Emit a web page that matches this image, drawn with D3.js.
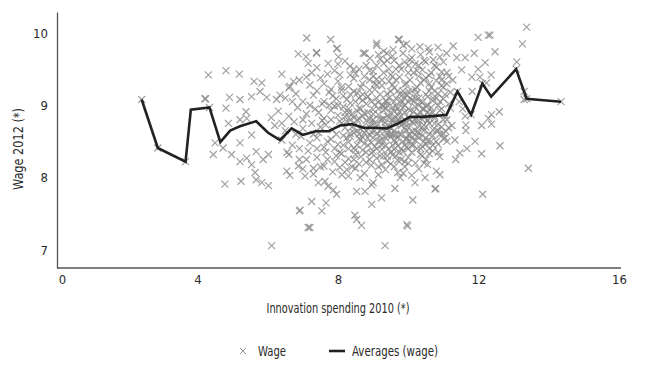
<!DOCTYPE html>
<html lang="en">
<head>
  <meta charset="utf-8">
  <title>Wage vs innovation spending</title>
  <script type="text/javascript" src="https://cdn.jsdelivr.net/npm/d3@7/dist/d3.min.js"></script>
  <style>
    body { margin: 0; background: #fff; }
    text { font-family: "DejaVu Sans Condensed", "DejaVu Sans", sans-serif; font-stretch: condensed; fill: #2a2a2a; }
  </style>
</head>
<body>
  <div id="chart"></div>
  <script type="text/javascript">

    let xTicks = [0, 4, 8, 12, 16];
    let yTicks = [7, 8, 9, 10];

    // averages line (x, wage)
    let avgX = [2.41, 2.87, 3.66, 3.81, 4.34, 4.65, 4.93, 5.21, 5.67, 6.01, 6.35, 6.68, 7.00, 7.36, 7.72, 8.06,
                8.39, 8.72, 9.05, 9.39, 9.72, 10.05, 10.38, 10.71, 11.09, 11.40, 11.79, 12.11, 12.36, 13.07, 13.37, 14.35];
    let avgY = [9.08, 8.41, 8.22, 8.94, 8.97, 8.49, 8.65, 8.71, 8.78, 8.62, 8.52, 8.68, 8.59, 8.64, 8.64, 8.72,
                8.74, 8.69, 8.69, 8.68, 8.75, 8.84, 8.84, 8.85, 8.87, 9.19, 8.87, 9.30, 9.12, 9.50, 9.09, 9.05];

    // scattered points away from the main cloud
    let outliers = [
      [2.41,9.08],[2.87,8.41],[3.66,8.22],[4.34,8.97],
      [4.31,9.42],[4.23,9.09],[4.45,8.32],[4.50,8.48],[4.81,9.48],[5.19,9.43],[4.21,9.09],[4.91,9.11],
      [5.21,9.08],[4.81,8.96],[5.38,8.91],[5.54,9.12],[5.78,9.19],[5.97,9.11],[6.25,9.08],[6.35,9.14],
      [6.63,9.26],[6.73,9.33],[4.88,8.75],[5.21,8.80],[5.40,8.82],[5.21,8.48],[5.54,8.59],[5.61,9.33],
      [5.83,9.31],[6.40,9.43],[6.87,9.71],[7.09,9.67],[7.15,9.58],[7.39,9.72],[7.11,9.93],
      [4.73,8.41],[4.97,8.32],[5.21,8.22],[5.40,8.27],[5.67,8.36],[4.78,7.91],[5.24,7.95],[5.64,8.07],
      [5.67,7.97],[5.83,7.93],[6.02,7.89],[5.54,8.18],[5.87,8.25],[6.02,8.32],[6.54,8.09],[6.63,8.03],
      [6.87,8.16],[7.06,8.02],[7.25,7.67],[6.90,7.54],[6.92,7.55],[7.15,7.31],[6.11,7.06],
      [7.30,8.13],[7.44,7.93],[7.63,7.95],[7.72,7.88],[7.87,7.83],[7.96,7.77],[7.66,7.65],[7.54,7.54],
      [7.20,7.31],[8.48,7.48],[8.53,7.42],[8.67,7.34],[8.53,7.81],[8.77,7.81],[8.96,7.63],[9.00,7.93],
      [9.24,7.72],[9.62,7.85],[9.34,7.06],[9.96,7.35],[9.98,7.33],[10.13,7.69],[10.19,7.93],[10.48,8.00],
      [10.76,7.84],[10.78,7.85],[10.90,8.04],[8.11,8.04],[8.25,8.11],[8.63,8.00],[8.96,7.90],[9.77,8.00],[9.86,8.06],
      [7.79,9.91],[7.39,9.73],[7.98,9.79],[8.01,9.67],[8.72,9.72],[9.10,9.83],[9.72,9.91],[9.86,9.83],
      [10.33,9.81],[10.57,9.79],[11.09,9.72],[7.72,9.58],[8.34,9.54],[8.91,9.65],[9.39,9.72],[9.57,9.77],
      [10.05,9.63],[10.71,9.63],[10.90,9.67],[7.96,9.78],[8.77,9.72],[9.75,9.91],[9.10,9.86],
      [13.37,10.08],[13.25,9.85],[12.28,9.97],[12.33,9.97],[11.99,9.94],[11.28,9.82],[11.88,9.72],
      [12.47,9.74],[12.19,9.59],[11.99,9.50],[12.36,9.42],[13.09,9.60],[11.38,9.66],[11.62,9.66],
      [11.52,9.49],[11.81,9.39],[12.04,9.39],[12.23,9.31],[11.27,9.35],[11.82,9.19],[13.30,9.19],
      [13.30,9.08],[12.59,8.91],[12.37,8.87],[12.28,8.82],[11.62,8.85],[12.09,8.72],[12.37,8.74],
      [11.64,8.73],[11.64,8.65],[11.33,8.52],[11.90,8.50],[12.61,8.44],[11.67,8.40],[11.47,8.34],
      [12.09,8.33],[13.42,8.13],[12.12,7.77],[11.24,8.72],[11.07,8.64],[14.35,9.05],[11.40,9.19],
      [11.79,8.87],[12.11,9.30],[13.07,9.50],[13.37,9.09],[11.45,9.05],[11.55,8.95],[11.35,8.25]
    ];

    // main cloud
    let cloud = [
      [7.4,9.52],[7.9,9.48],[8.2,9.61],[8.5,9.44],[8.8,9.55],[9.0,9.47],[9.3,9.58],[9.5,9.42],[9.6,9.62],
      [9.8,9.5],[10.0,9.45],[10.2,9.57],[10.4,9.49],[10.6,9.41],[10.8,9.53],[10.95,9.46],[9.2,9.64],[8.6,9.5],
      [7.7,9.43],[10.1,9.66],[9.9,9.6],[10.5,9.6],[11.1,9.45],[8.0,9.57],
      [6.9,9.35],[7.2,9.28],[7.5,9.38],[7.8,9.22],[8.0,9.33],[8.3,9.26],[8.45,9.37],[8.7,9.3],[8.9,9.21],
      [9.1,9.36],[9.25,9.27],[9.45,9.33],[9.6,9.24],[9.75,9.39],[9.9,9.29],[10.05,9.35],[10.2,9.22],
      [10.35,9.31],[10.5,9.38],[10.65,9.25],[10.8,9.34],[10.95,9.27],[11.1,9.3],[9.0,9.4],[9.55,9.4],
      [10.3,9.4],[8.1,9.21],[6.6,9.24],[7.1,9.39],[9.85,9.2],[10.6,9.2],
      [6.5,9.1],[6.8,9.16],[7.0,9.05],[7.3,9.14],[7.55,9.02],[7.75,9.18],[7.95,9.09],[8.15,9.13],[8.35,9.03],
      [8.55,9.17],[8.7,9.07],[8.85,9.12],[9.05,9.01],[9.2,9.15],[9.35,9.06],[9.5,9.19],[9.65,9.1],[9.8,9.03],
      [9.95,9.14],[10.1,9.08],[10.25,9.17],[10.4,9.04],[10.55,9.12],[10.7,9.06],[10.85,9.16],[11.0,9.09],
      [11.15,9.02],[8.45,9.19],[9.1,9.1],[9.75,9.15],[10.3,9.0],[8.0,9.0],[9.4,9.0],[10.0,9.19],[7.4,9.2],[11.2,9.18],
      [6.3,8.92],[6.6,8.85],[6.85,8.97],[7.1,8.88],[7.35,8.95],[7.6,8.82],[7.8,8.93],[8.0,8.86],[8.15,8.98],
      [8.3,8.9],[8.45,8.83],[8.6,8.96],[8.75,8.89],[8.9,8.81],[9.0,8.94],[9.15,8.87],[9.3,8.99],[9.45,8.84],
      [9.6,8.92],[9.7,8.86],[9.85,8.97],[10.0,8.83],[10.15,8.91],[10.3,8.85],[10.45,8.95],[10.6,8.88],
      [10.75,8.82],[10.9,8.93],[11.05,8.86],[11.2,8.96],[8.55,8.8],[9.25,8.8],[9.9,8.9],[10.5,8.99],[7.9,8.99],
      [8.2,8.84],[9.55,8.97],[10.2,8.98],[6.1,8.83],
      [6.2,8.72],[6.5,8.65],[6.75,8.77],[7.0,8.68],[7.25,8.75],[7.45,8.62],[7.65,8.73],[7.85,8.66],[8.05,8.78],
      [8.2,8.69],[8.35,8.61],[8.5,8.74],[8.65,8.67],[8.8,8.79],[8.95,8.63],[9.1,8.71],[9.2,8.64],[9.35,8.76],
      [9.5,8.68],[9.65,8.6],[9.8,8.72],[9.95,8.65],[10.1,8.77],[10.25,8.63],[10.4,8.7],[10.55,8.78],[10.7,8.66],
      [10.85,8.74],[11.0,8.61],[11.15,8.69],[8.6,8.6],[9.0,8.8],[9.4,8.62],[9.75,8.79],[10.3,8.79],[8.25,8.78],
      [10.05,8.6],[8.9,8.7],[9.6,8.75],[7.55,8.79],
      [6.4,8.52],[6.7,8.45],[6.95,8.57],[7.2,8.48],[7.4,8.55],[7.6,8.42],[7.8,8.53],[8.0,8.46],[8.15,8.58],
      [8.3,8.49],[8.45,8.41],[8.6,8.54],[8.75,8.47],[8.9,8.59],[9.05,8.43],[9.2,8.51],[9.35,8.44],[9.5,8.56],
      [9.65,8.48],[9.8,8.4],[9.95,8.52],[10.1,8.45],[10.25,8.57],[10.4,8.43],[10.55,8.5],[10.7,8.58],
      [10.85,8.46],[11.0,8.54],[8.7,8.56],[9.4,8.59],[10.0,8.59],[9.1,8.4],[8.35,8.57],[7.9,8.4],[10.6,8.4],[9.7,8.55],
      [6.6,8.32],[6.9,8.25],[7.15,8.37],[7.4,8.28],[7.65,8.35],[7.9,8.22],[8.1,8.33],[8.3,8.26],[8.5,8.38],
      [8.65,8.29],[8.8,8.21],[8.95,8.34],[9.1,8.27],[9.25,8.39],[9.4,8.23],[9.55,8.31],[9.7,8.24],[9.85,8.36],
      [10.0,8.28],[10.2,8.2],[10.35,8.32],[10.5,8.25],[10.7,8.37],[10.9,8.29],[8.7,8.38],[9.3,8.3],[9.9,8.22],
      [8.2,8.21],[9.6,8.39],[10.6,8.33],
      [7.0,8.12],[7.3,8.05],[7.6,8.16],[7.85,8.08],[8.05,8.14],[8.3,8.02],[8.5,8.13],[8.75,8.06],[8.95,8.17],
      [9.15,8.04],[9.35,8.11],[9.5,8.19],[9.7,8.07],[9.9,8.15],[10.1,8.03],[10.3,8.12],[10.55,8.18],[10.8,8.09],
      [8.6,8.19],[9.25,8.18],
      [8.55,8.92],[8.8,9.02],[9.05,8.76],[9.3,8.93],[9.55,8.81],[9.8,9.07],[10.05,8.93],[10.3,8.72],[8.65,8.52],
      [8.95,8.48],[9.2,8.58],[9.45,8.71],[9.7,8.44],[9.95,8.77],[10.2,8.52],[10.45,8.85],[8.4,8.7],[8.85,9.12],
      [9.15,9.04],[9.4,9.16],[9.65,8.99],[9.9,8.69],[10.15,9.05],[10.4,8.58],[8.5,8.32],[9.0,8.36],[9.5,8.35],
      [10.0,8.4],[10.5,8.46],[9.25,8.68],[9.75,8.91],[10.25,8.87],[8.3,8.95],[8.75,8.62],[9.6,8.52],[10.1,8.64],
      [10.65,8.97],[10.8,9.1],[10.95,8.7],[11.1,8.8],
      [7.25,9.45],[7.6,9.3],[7.85,9.13],[8.1,8.75],[8.25,9.08],[8.4,8.88],[8.45,9.5],[8.65,9.25],[8.7,8.85],
      [8.85,8.55],[8.9,9.35],[9.05,9.22],[9.1,8.6],[9.15,8.95],[9.2,8.3],[9.3,9.45],[9.35,8.55],[9.4,8.85],
      [9.45,9.1],[9.5,8.75],[9.55,9.28],[9.6,8.65],[9.65,9.35],[9.7,8.95],[9.75,8.35],[9.8,8.6],[9.85,9.15],
      [9.9,8.45],[9.95,9.3],[10.0,8.7],[10.05,9.1],[10.1,8.35],[10.15,9.45],[10.2,8.8],[10.25,9.25],[10.3,8.55],
      [10.35,9.05],[10.4,8.3],[10.45,9.35],[10.5,8.7],[10.55,9.0],[10.6,8.6],[10.65,9.45],[10.7,8.9],[10.75,9.2],
      [10.8,8.5],[10.85,9.0],[10.9,8.6],[10.95,9.35],[11.0,8.8],[11.05,9.15],[11.1,8.5],[11.15,9.4],[7.5,8.7],
      [7.7,8.5],[7.75,9.0],[7.95,8.6],[8.05,8.35],[8.1,9.25],[8.25,8.55],[8.35,8.8],[8.4,8.15],[8.55,8.65],
      [8.6,9.1],[8.8,8.35],[8.85,8.9],[9.0,8.55],[9.05,9.3],[9.2,8.8],[9.25,9.0],[9.35,8.7],[9.45,8.4],
      [9.55,8.6],[9.6,9.05],[9.7,8.8],[9.8,8.25],[9.85,8.75],[9.95,8.55],[10.05,8.8],[10.1,9.2],[10.2,8.65],
      [10.3,9.1],[10.35,8.4],[10.45,8.65],[10.55,8.9],[10.6,9.3],[10.7,8.45],[10.75,8.75],[10.85,8.35],[10.9,9.05],
      [7.0,8.8],[6.8,8.6],[7.2,9.0],[6.9,8.4],[7.3,8.6],[7.45,8.9],[6.7,9.05],[6.4,8.75],[6.55,8.35],[7.1,8.25],
      [8.15,8.45],[8.5,9.05],[8.7,8.7],[8.95,8.75],[9.3,8.5],[9.5,8.9],[9.9,9.0],[10.4,8.95],[10.15,8.45],
      [9.65,8.3],[9.15,8.15],[8.65,8.95],[9.25,9.35],[9.85,8.5],[10.0,9.05],[10.5,8.55],[9.45,9.5],[8.75,9.4],
      [10.3,9.55],[9.1,9.55],[9.75,9.55],
      [9.3,9.75],[9.55,9.68],[9.85,9.72],[10.1,9.78],[10.35,9.7],[10.6,9.74],[10.85,9.8],[9.15,9.7],[9.95,9.85],
      [10.45,9.62],[10.75,9.55],[11.0,9.6],[9.65,9.5],[10.25,9.48],[8.9,9.48],[8.35,9.42],[10.9,9.4],[8.05,9.42],
      [9.4,9.62],[10.0,9.55],
      [8.45,8.62],[8.6,8.82],[8.8,8.65],[8.95,9.05],[9.05,8.65],[9.15,8.5],[9.3,8.82],[9.4,9.05],[9.55,8.45],
      [9.6,8.82],[9.7,9.2],[9.8,8.85],[9.95,8.42],[10.0,8.95],[10.1,8.55],[10.2,9.1],[10.3,8.62],[10.4,8.8],
      [10.5,9.15],[10.6,8.75],[10.7,9.1],[10.8,8.65],[10.95,8.95],[11.05,8.55],[8.35,9.15],[8.55,8.45],[8.7,9.15],
      [8.85,8.45],[9.0,8.88],[9.1,9.28],[9.25,8.45],[9.35,8.95],[9.5,8.6],[9.65,8.75],[9.75,8.6],[9.9,9.1],
      [10.05,8.5],[10.15,8.75],[10.25,8.4],[10.35,8.9],[10.45,8.5],[10.55,8.8],[10.65,8.5],[10.75,8.85],[10.85,8.65],
      [11.0,9.25],[7.8,8.8],[7.6,9.05],[7.4,8.4],[7.95,8.3],[8.2,8.9],[8.3,8.4],[7.7,8.25],[8.9,8.25],[9.4,8.3],
      [10.0,8.2],[10.45,8.2],[9.6,8.15],[8.45,8.25],[7.5,8.15]
    ];

    let wage = outliers.concat(cloud);

    function drawChart() {
      let w = 649;
      let h = 366;

      let xScale = d3.scaleLinear().domain([0, 16]).range([57, 619]);
      let yScale = d3.scaleLinear().domain([6.75, 10.29]).range([268, 12]);

      let svg = d3.select("#chart")
        .append("svg")
        .attr("width", w)
        .attr("height", h);

      let cross = "M-3.5,-3.5L3.5,3.5M-3.5,3.5L3.5,-3.5";

      svg.append("g")
        .selectAll("path")
        .data(wage)
        .enter()
        .append("path")
        .attr("d", cross)
        .attr("transform", function(d) {
          return "translate(" + xScale(d[0]) + "," + yScale(d[1]) + ")";
        })
        .attr("stroke", "#888")
        .attr("stroke-opacity", 0.8)
        .attr("stroke-width", 1.2)
        .attr("fill", "none");

      let line = d3.line()
        .x(function(d, i) { return xScale(avgX[i]); })
        .y(function(d, i) { return yScale(avgY[i]); });

      svg.append("path")
        .datum(avgX)
        .attr("d", line)
        .attr("fill", "none")
        .attr("stroke", "#222")
        .attr("stroke-width", 2.6)
        .attr("stroke-linejoin", "miter");

      // axes
      let xAxis = d3.axisBottom(xScale).tickValues(xTicks).tickSize(0).tickPadding(7).tickFormat(d3.format("d"));
      let yAxis = d3.axisLeft(yScale).tickValues(yTicks).tickSize(0).tickPadding(9).tickFormat(d3.format("d"));

      let gx = svg.append("g")
        .attr("transform", "translate(0,268)")
        .call(xAxis);
      gx.select(".domain").attr("d", "M57,0H621");
      let gy = svg.append("g")
        .attr("transform", "translate(57,0)")
        .call(yAxis);

      svg.selectAll(".domain").attr("stroke", "#555").attr("stroke-width", 1.3);
      svg.selectAll(".tick text")
        .attr("font-family", null)
        .attr("font-size", 13)
        .attr("fill", "#2a2a2a");
      gx.selectAll(".tick text").filter(function(d) { return d === 0; }).attr("dx", 5);

      svg.append("text")
        .attr("x", 338)
        .attr("y", 313)
        .attr("text-anchor", "middle")
        .attr("font-size", 14)
        .attr("textLength", 143)
        .attr("lengthAdjust", "spacingAndGlyphs")
        .text("Innovation spending 2010 (*)");

      svg.append("text")
        .attr("transform", "translate(23,149) rotate(-90)")
        .attr("text-anchor", "middle")
        .attr("font-size", 14)
        .attr("textLength", 82)
        .attr("lengthAdjust", "spacingAndGlyphs")
        .text("Wage 2012 (*)");

      // legend
      let legend = svg.append("g").attr("transform", "translate(0,351)");
      legend.append("path")
        .attr("d", "M-3,-3L3,3M-3,3L3,-3")
        .attr("transform", "translate(243,0)")
        .attr("stroke", "#999")
        .attr("fill", "none");
      legend.append("text")
        .attr("x", 258).attr("y", 5)
        .attr("font-size", 14)
        .attr("textLength", 28)
        .attr("lengthAdjust", "spacingAndGlyphs")
        .text("Wage");
      legend.append("line")
        .attr("x1", 329).attr("x2", 345)
        .attr("y1", 0).attr("y2", 0)
        .attr("stroke", "#222")
        .attr("stroke-width", 2.6);
      legend.append("text")
        .attr("x", 352).attr("y", 5)
        .attr("font-size", 14)
        .attr("textLength", 86)
        .attr("lengthAdjust", "spacingAndGlyphs")
        .text("Averages (wage)");
    }

    drawChart();
  </script>
</body>
</html>
